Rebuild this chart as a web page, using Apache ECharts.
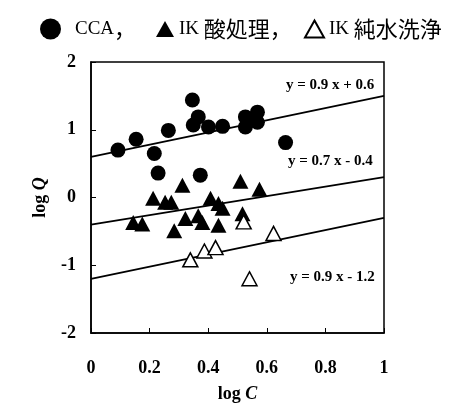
<!DOCTYPE html>
<html><head><meta charset="utf-8">
<script src="https://cdn.jsdelivr.net/npm/echarts@6/dist/echarts.min.js"></script>
<style>html,body{margin:0;padding:0;background:#fff}#c{width:456px;height:408px}</style>
</head><body><div id="c"></div>
<script>
const seriesNames = ['CCA，', 'IK 酸処理，', 'IK 純水洗浄'];
const xTicks = [0, 0.2, 0.4, 0.6, 0.8, 1];
const yTicks = [-2, -1, 0, 1, 2];
const ccaPoints = [
  [0.092, 0.70], [0.154, 0.86], [0.216, 0.65], [0.229, 0.36], [0.264, 0.99],
  [0.346, 1.44], [0.366, 1.19], [0.349, 1.07], [0.401, 1.04], [0.449, 1.05],
  [0.373, 0.33], [0.527, 1.19], [0.568, 1.26], [0.527, 1.04], [0.568, 1.11],
  [0.664, 0.81]
];
const acidPoints = [
  [0.144, -0.37], [0.175, -0.39], [0.212, -0.01], [0.253, -0.07], [0.274, -0.07],
  [0.284, -0.49], [0.312, 0.18], [0.322, -0.31], [0.366, -0.27], [0.380, -0.37],
  [0.408, -0.01], [0.435, -0.09], [0.449, -0.16], [0.435, -0.41], [0.510, 0.24],
  [0.517, -0.24], [0.575, 0.12]
];
const waterPoints = [
  [0.339, -0.92], [0.387, -0.79], [0.425, -0.74], [0.521, -0.36], [0.623, -0.53],
  [0.541, -1.20]
];
const fitCCA = [[0, 0.6], [1, 1.5]];
const fitAcid = [[0, -0.4], [1, 0.3]];
const fitWater = [[0, -1.2], [1, -0.3]];
const fitLabels = ['y = 0.9 x + 0.6', 'y = 0.7 x - 0.4', 'y = 0.9 x - 1.2'];

const serif = '"Liberation Serif", "Noto Sans CJK JP", serif';
const cjk = '"Noto Sans CJK JP", "Liberation Serif", sans-serif';
const chart = echarts.init(document.getElementById('c'));
const lineStyle = {color: '#000', width: 1.8};
function fitSeries(d) {
  return {type: 'line', data: d, symbol: 'none', lineStyle: lineStyle, silent: true, z: 1};
}
const legendRich = {
  l: {fontFamily: serif, fontSize: 19, color: '#000'},
  c: {fontFamily: cjk, fontSize: 22, color: '#000'}
};
function legendFormatter(name) {
  const m = name.match(/^([A-Za-z ]*)(.*)$/);
  return (m[1] ? '{l|' + m[1] + '}' : '') + (m[2] ? '{c|' + m[2] + '}' : '');
}
function mkLegend(left, name, icon, w, h, pad) {
  return {
    left: left, top: 18, padding: 0, itemWidth: w, itemHeight: h,
    formatter: legendFormatter,
    textStyle: {rich: legendRich, padding: [0, 0, 0, pad]},
    data: [{name: name, icon: icon}]
  };
}
const nameRich = {
  a: {fontFamily: serif, fontSize: 18, fontWeight: 'bold', color: '#000'},
  b: {fontFamily: serif, fontSize: 18, fontStyle: 'italic', fontWeight: 'bold', color: '#000'}
};
chart.setOption({
  animation: false,
  backgroundColor: '#fff',
  grid: {left: 91, right: 72, top: 62, bottom: 75, outerBoundsMode: 'none', containLabel: false,
    show: true, borderColor: '#000', borderWidth: 1.5, backgroundColor: 'transparent'},
  legend: [
    mkLegend(40, seriesNames[0], 'circle', 21, 21, 9),
    mkLegend(156, seriesNames[1], 'triangle', 18, 16, 0),
    mkLegend(304, seriesNames[2], 'triangle', 19, 17, 0)
  ],
  xAxis: {
    type: 'value', min: xTicks[0], max: xTicks[xTicks.length - 1], interval: 0.2,
    name: '{a|log }{b|C}', nameLocation: 'middle', nameGap: 52,
    nameTextStyle: {rich: nameRich},
    axisLine: {onZero: false, lineStyle: {color: '#000', width: 1.5}},
    axisTick: {show: true, inside: true, length: 5, lineStyle: {color: '#000'}},
    splitLine: {show: false},
    axisLabel: {margin: 26, fontFamily: serif, fontSize: 18, fontWeight: 'bold', color: '#000',
      formatter: v => xTicks.includes(Math.round(v * 10) / 10) ? String(Math.round(v * 10) / 10) : ''}
  },
  yAxis: {
    type: 'value', min: yTicks[0], max: yTicks[yTicks.length - 1], interval: 1,
    name: '{a|log }{b|Q}', nameLocation: 'middle', nameGap: 42, nameRotate: 90,
    nameTextStyle: {rich: nameRich},
    axisLine: {onZero: false, lineStyle: {color: '#000', width: 1.5}},
    axisTick: {show: true, inside: true, length: 5, lineStyle: {color: '#000'}},
    splitLine: {show: false},
    axisLabel: {margin: 15, fontFamily: serif, fontSize: 18, fontWeight: 'bold', color: '#000'}
  },
  series: [
    fitSeries(fitCCA), fitSeries(fitAcid), fitSeries(fitWater),
    {name: seriesNames[0], type: 'scatter', data: ccaPoints, symbol: 'circle', symbolSize: 15,
      itemStyle: {color: '#000', opacity: 1}, z: 3},
    {name: seriesNames[1], type: 'scatter', data: acidPoints, symbol: 'triangle', symbolSize: [16, 15],
      itemStyle: {color: '#000', opacity: 1}, z: 3},
    {name: seriesNames[2], type: 'scatter', data: waterPoints, symbol: 'triangle', symbolSize: [15, 14],
      itemStyle: {color: '#fff', borderColor: '#000', borderWidth: 1.5, opacity: 1}, z: 3}
  ],
  graphic: [
    {type: 'text', left: 286, top: 78, style: {text: fitLabels[0], font: 'bold 15px "Liberation Serif"', fill: '#000'}},
    {type: 'text', left: 288, top: 154, style: {text: fitLabels[1], font: 'bold 15px "Liberation Serif"', fill: '#000'}},
    {type: 'text', left: 290, top: 270, style: {text: fitLabels[2], font: 'bold 15px "Liberation Serif"', fill: '#000'}}
  ]
});
</script></body></html>
